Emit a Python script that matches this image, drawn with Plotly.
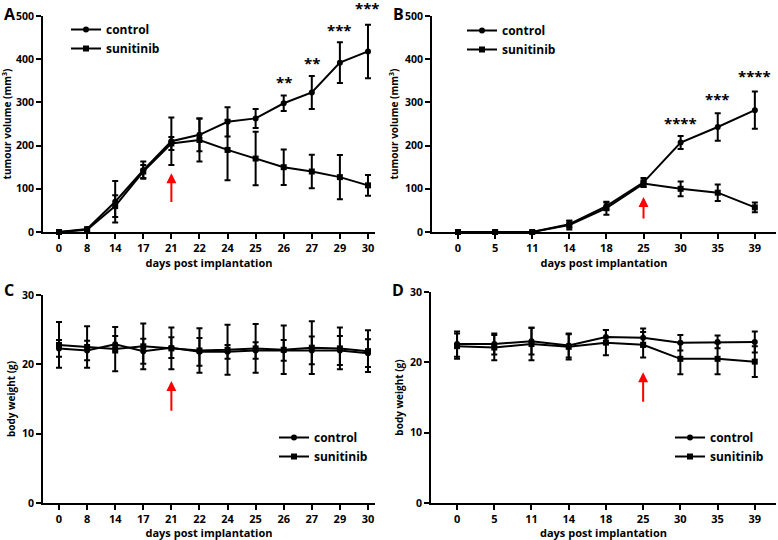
import plotly.graph_objects as go

# ---------------- data ----------------
days_a = ["0", "8", "14", "17", "21", "22", "24", "25", "26", "27", "29", "30"]
ctrl_a = [0, 7, 70, 143, 210, 225, 255, 263, 298, 323, 392, 418]
ctrl_a_err = [2, 4, 48, 20, 55, 38, 34, 22, 18, 38, 47, 62]
suni_a = [0, 5, 60, 140, 205, 213, 190, 170, 150, 140, 127, 108]
suni_a_err = [2, 4, 25, 15, 15, 50, 70, 62, 41, 39, 51, 24]
stars_a_days = ["26", "27", "29", "30"]
stars_a_text = ["**", "**", "***", "***"]
stars_a_y = [347, 391, 468, 518]

days_b = ["0", "5", "11", "14", "18", "25", "30", "35", "39"]
ctrl_b = [0, 0, 0, 18, 60, 115, 207, 243, 282]
ctrl_b_err = [1, 1, 1, 8, 8, 10, 15, 32, 43]
suni_b = [0, 0, 0, 16, 55, 112, 100, 91, 57]
suni_b_err = [1, 1, 1, 10, 15, 8, 17, 19, 11]
stars_b_days = ["30", "35", "39"]
stars_b_text = ["****", "***", "****"]
stars_b_y = [252, 307, 361]

ctrl_c = [22.3, 22.0, 22.9, 21.9, 22.4, 21.8, 21.8, 22.0, 22.0, 22.0, 22.0, 21.6]
ctrl_c_err = [1.2, 1.4, 1.2, 1.8, 1.5, 2.0, 1.0, 1.2, 1.5, 2.0, 2.1, 2.0]
suni_c = [22.8, 22.5, 22.2, 22.6, 22.3, 22.0, 22.1, 22.3, 22.1, 22.4, 22.3, 21.9]
suni_c_err = [3.3, 3.0, 3.2, 3.3, 3.0, 3.2, 3.6, 3.5, 3.5, 3.8, 3.0, 3.0]

ctrl_d = [22.6, 22.6, 23.0, 22.4, 23.6, 23.5, 22.8, 22.9, 22.9]
ctrl_d_err = [1.8, 1.5, 1.9, 1.7, 1.0, 1.3, 1.1, 0.9, 1.5]
suni_d = [22.3, 22.1, 22.6, 22.2, 22.8, 22.5, 20.5, 20.5, 20.1]
suni_d_err = [1.8, 1.8, 2.3, 1.8, 1.8, 1.8, 2.2, 2.2, 2.2]

arrow_a = ("21", 136, 66)
arrow_b = ("25", 81, 28)
arrow_c = ("21", 17.6, 13.1)
arrow_d = ("25", 18.6, 14.2)

FONT = "Open Sans"
fig = go.Figure()


def add_pair(xs, c, ce, s, se, xa, ya, leg):
    for name, vals, errs, sym in [("control", c, ce, "circle"), ("sunitinib", s, se, "square")]:
        fig.add_trace(go.Scatter(
            x=xs, y=vals, name="<b>" + name + "</b>", mode="lines+markers",
            line=dict(color="black", width=2),
            marker=dict(symbol=sym, size=6, color="black"),
            error_y=dict(type="data", array=errs, visible=True, color="black",
                         thickness=2, width=3),
            xaxis=xa, yaxis=ya, legend=leg, cliponaxis=False,
        ))


add_pair(days_a, ctrl_a, ctrl_a_err, suni_a, suni_a_err, "x", "y", "legend")
add_pair(days_b, ctrl_b, ctrl_b_err, suni_b, suni_b_err, "x2", "y2", "legend2")
add_pair(days_a, ctrl_c, ctrl_c_err, suni_c, suni_c_err, "x3", "y3", "legend3")
add_pair(days_b, ctrl_d, ctrl_d_err, suni_d, suni_d_err, "x4", "y4", "legend4")

W, H = 778, 540


def px(x):
    return x / W


def py(y):
    return 1 - y / H


def bold(lst):
    return ["<b>" + s + "</b>" for s in lst]


def xax(days, dom, rng, anchor):
    return dict(type="category", showline=True, linecolor="black", linewidth=2,
                ticks="outside", ticklen=5, tickwidth=2, tickcolor="black",
                showgrid=False, zeroline=False, domain=dom, range=rng, anchor=anchor,
                automargin=False,
                tickmode="array", tickvals=days, ticktext=bold(days),
                tickfont=dict(size=11, color="black", family=FONT),
                title=dict(text="<b>days post implantation</b>", standoff=0,
                           font=dict(size=11, color="black", family=FONT)))


def yax(dom, rng, dt, anchor, t):
    vals = list(range(rng[0], rng[1] + 1, dt))
    return dict(showline=True, linecolor="black", linewidth=2,
                ticks="outside", ticklen=5, tickwidth=2, tickcolor="black",
                showgrid=False, zeroline=False, domain=dom, range=rng, anchor=anchor,
                automargin=False,
                tickmode="array", tickvals=vals, ticktext=bold([str(v) for v in vals]),
                tickfont=dict(size=10.5, color="black", family=FONT),
                title=dict(text="<b>" + t + "</b>", standoff=4,
                           font=dict(size=10, color="black", family=FONT)))


def legend(x, y):
    return dict(x=x, y=y, xanchor="left", yanchor="top", bgcolor="rgba(0,0,0,0)",
                font=dict(size=12, color="black", family=FONT),
                tracegroupgap=0, itemwidth=30)


fig.update_layout(
    width=W, height=H, margin=dict(l=0, r=0, t=0, b=0),
    paper_bgcolor="white", plot_bgcolor="white",
    font=dict(family=FONT, color="black"),
    xaxis=xax(days_a, [px(43), px(375)], [-0.57, 11.25], "y"),
    yaxis=yax([py(232), py(16)], [0, 500], 100, "x", "tumour volume (mm<sup>3</sup>)"),
    xaxis2=xax(days_b, [px(432), px(776)], [-0.70, 8.57], "y2"),
    yaxis2=yax([py(232), py(16)], [0, 500], 100, "x2", "tumour volume (mm<sup>3</sup>)"),
    xaxis3=xax(days_a, [px(43), px(375)], [-0.57, 11.25], "y3"),
    yaxis3=yax([py(503), py(295)], [0, 30], 10, "x3", "body weight (g)"),
    xaxis4=xax(days_b, [px(431), px(776)], [-0.70, 8.57], "y4"),
    yaxis4=yax([py(503), py(292)], [0, 30], 10, "x4", "body weight (g)"),
    legend=legend(px(66), py(15)),
    legend2=legend(px(462), py(16)),
    legend3=legend(px(274), py(423)),
    legend4=legend(px(670), py(423)),
)

ann = []
for d, t, y in zip(stars_a_days, stars_a_text, stars_a_y):
    ann.append(dict(x=days_a.index(d), y=y / 500, xref="x", yref="y domain",
                    text="<b>" + t + "</b>", yanchor="middle",
                    showarrow=False, font=dict(size=15, color="black", family=FONT)))
for d, t, y in zip(stars_b_days, stars_b_text, stars_b_y):
    ann.append(dict(x=days_b.index(d), y=y / 500, xref="x2", yref="y2 domain",
                    text="<b>" + t + "</b>", yanchor="middle",
                    showarrow=False, font=dict(size=15, color="black", family=FONT)))
for (d, tip, tail), days, xr, yr in [(arrow_a, days_a, "x", "y"), (arrow_b, days_b, "x2", "y2"),
                                     (arrow_c, days_a, "x3", "y3"), (arrow_d, days_b, "x4", "y4")]:
    i = days.index(d)
    ann.append(dict(x=i, y=tip, ax=i, ay=tail, xref=xr, yref=yr, axref=xr, ayref=yr,
                    text="", showarrow=True, arrowhead=2, arrowsize=1, arrowwidth=2,
                    arrowcolor="red"))
for lab, x, y in [("A", 2, 1), ("B", 391, 1), ("C", 2, 277), ("D", 390, 277)]:
    ann.append(dict(x=px(x), y=py(y), xref="paper", yref="paper", text="<b>" + lab + "</b>",
                    xanchor="left", yanchor="top", showarrow=False,
                    font=dict(size=16, color="black", family=FONT)))
fig.update_layout(annotations=ann)

fig.write_html("out.html", config={"displayModeBar": False},
               post_script="document.body.style.margin='0';")
